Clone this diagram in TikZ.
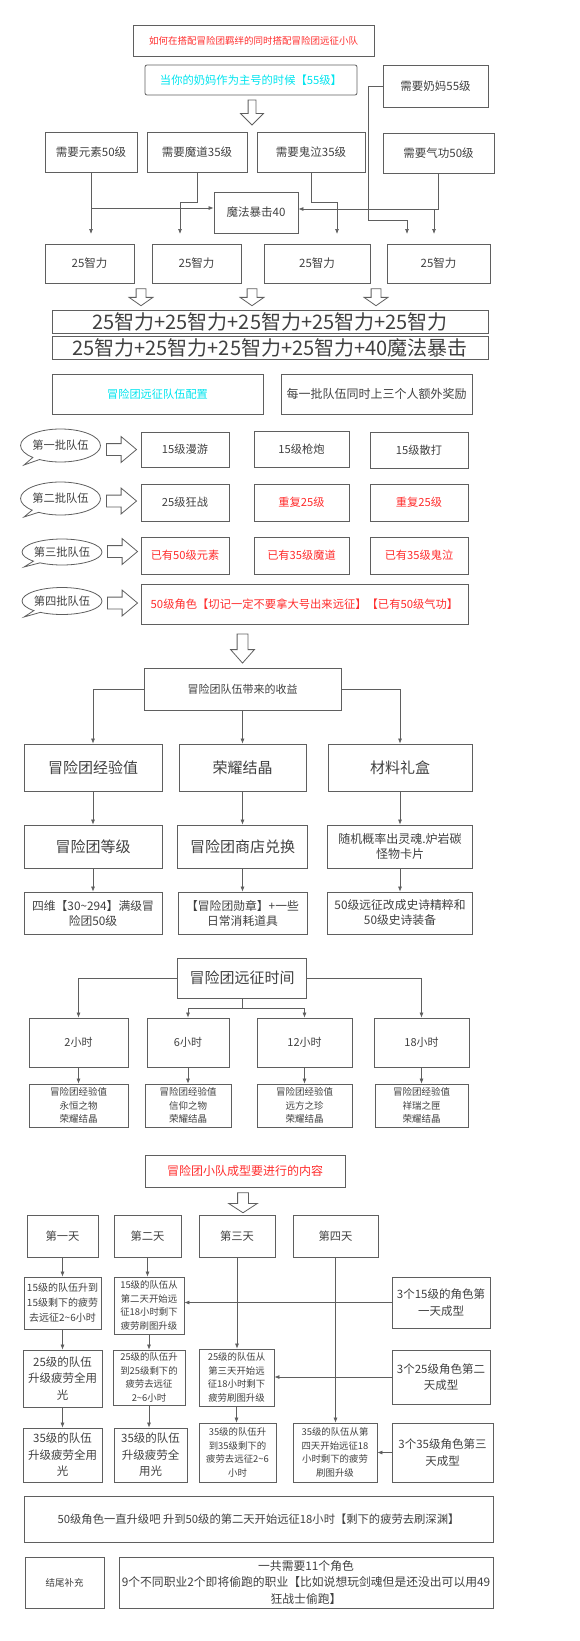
\documentclass[tikz,border=0pt]{standalone}
\usepackage{fontspec}
\setmainfont{Noto Sans CJK SC}
\usetikzlibrary{arrows.meta,shapes.arrows,shapes.callouts}

\definecolor{txtgray}{RGB}{64,64,64}
\definecolor{linegray}{RGB}{95,95,95}
\definecolor{hlred}{RGB}{255,45,45}
\definecolor{hlcyan}{RGB}{0,228,238}
\newcommand{\tld}{\textasciitilde}

\begin{document}
\begin{tikzpicture}[x=1pt, y=-1pt,
        cbox/.style 2 args={draw=linegray, line width=0.8pt, text=txtgray,
            align=center, inner sep=1pt, minimum width=#1pt, minimum height=#2pt},
        fs/.style 2 args={font=\fontsize{#1}{#2}\selectfont},
        conn/.style={draw=linegray, line width=0.7pt, -{Latex[length=5pt,width=4pt]}},
        hollowdown/.style n args={4}{single arrow, draw=linegray, line width=0.8pt,
            shape border rotate=270, inner sep=#1pt, minimum height=#2pt,
            single arrow head extend=#3pt, single arrow tip angle=#4},
        hollowright/.style={single arrow, draw=linegray, line width=0.8pt,
            inner sep=5.5pt, minimum height=30pt, single arrow head extend=7pt,
            single arrow tip angle=80},
        batch/.style n args={4}{ellipse callout, draw=linegray, line width=0.8pt,
            text=txtgray, fs={11.3}{13}, inner sep=0pt, minimum width=#1pt,
            minimum height=#2pt, callout absolute pointer={(#3,#4)}, callout pointer arc=12},
    ]
    \useasboundingbox (0,0) rectangle (580,1641);

    % main character and requirements
    \node[cbox={241}{31}, fs={9.5}{12}, text=hlred] (title) at (253.5,40.5)
        {如何在搭配冒险团羁绊的同时搭配冒险团远征小队};
    \node[cbox={212}{30}, fs={11.3}{14}, text=hlcyan, rounded corners=2pt] (mainchar) at (251,80)
        {当你的奶妈作为主号的时候【55级】};
    \node[cbox={105}{42}, fs={11.5}{14}] (naima) at (435.5,86) {需要奶妈55级};
    \node[hollowdown={3.5}{25}{7.5}{90}] (arrA) at (252,110.5) {};

    \node[cbox={92}{40}, fs={11.5}{14}] (yuansu) at (91,152) {需要元素50级};
    \node[cbox={100}{40}, fs={11.5}{14}] (modao) at (197,152) {需要魔道35级};
    \node[cbox={108}{40}, fs={11.5}{14}] (guiqi) at (311,152) {需要鬼泣35级};
    \node[cbox={111}{40}, fs={11.5}{14}] (qigong) at (438.5,153) {需要气功50级};
    \node[cbox={84}{41}, fs={11.5}{14}] (mofa) at (256,212.5) {魔法暴击40};

    \node[cbox={89}{39}, fs={11.5}{14}] (zl1) at (89.5,263.5) {25智力};
    \node[cbox={89}{39}, fs={11.5}{14}] (zl2) at (196.5,263.5) {25智力};
    \node[cbox={106}{39}, fs={11.5}{14}] (zl3) at (317,263.5) {25智力};
    \node[cbox={103}{39}, fs={11.5}{14}] (zl4) at (438.5,263.5) {25智力};

    \coordinate (zl1in) at (91,234);
    \coordinate (zl2in) at (180,234);
    \coordinate (zl3in) at (337,234);
    \coordinate (zl4in) at (407,234);
    \coordinate (zl5in) at (434,234);
    \coordinate (jy) at (91,208);
    \coordinate (jq) at (434,209);

    \draw[conn] (yuansu.south) -- (zl1in);
    \draw[conn] (jy) -- (mofa.west |- jy);
    \draw[conn] (modao.south) -- ++(0,30) -| (zl2in);
    \draw[conn] (guiqi.south) -- ++(0,30) -| (zl3in);
    \draw[conn] (naima.west) -- ++(-14,0) -- ++(0,134) -| (zl4in);
    \draw[conn] (qigong.south) -- (qigong.south |- jq) -| (zl5in);
    \draw[conn] (jq) -- (mofa.east |- jq);

    \node[hollowdown={4.5}{17}{7}{110}] (arrB1) at (141,295.5) {};
    \node[hollowdown={4.5}{17}{7}{110}] (arrB2) at (252,295.5) {};
    \node[hollowdown={4.5}{17}{7}{110}] (arrB3) at (376,295.5) {};

    \node[cbox={436}{23}, fs={20}{24}, inner sep=0pt] (sum1) at (270,321.5)
        {25智力+25智力+25智力+25智力+25智力};
    \node[cbox={436}{23}, fs={20}{24}, inner sep=0pt] (sum2) at (270,347.5)
        {25智力+25智力+25智力+25智力+40魔法暴击};

    % expedition batches
    \node[cbox={211}{40}, fs={11.2}{14}, text=hlcyan] (peizhi) at (157.5,394) {冒险团远征队伍配置};
    \node[cbox={191}{40}, fs={12}{14}] (jiangli) at (376.5,394) {每一批队伍同时上三个人额外奖励};

    \node[batch={73}{33}{24}{465}] (pi1) at (60.5,445.5) {第一批队伍};
    \node[hollowright] (ra1) at (118,449.5) {};
    \node[cbox={88}{35}, fs={11.2}{14}] (p11) at (185,449.5) {15级漫游};
    \node[cbox={95}{36}, fs={11.2}{14}] (p12) at (301.5,449) {15级枪炮};
    \node[cbox={98}{36}, fs={11.2}{14}] (p13) at (419,450) {15级散打};

    \node[batch={73}{33}{24}{517}] (pi2) at (60.5,498.5) {第二批队伍};
    \node[hollowright] (ra2) at (118,501) {};
    \node[cbox={88}{37}, fs={11.2}{14}] (p21) at (185,502.5) {25级狂战};
    \node[cbox={95}{37}, fs={11.2}{14}, text=hlred] (p22) at (301.5,502.5) {重复25级};
    \node[cbox={98}{37}, fs={11.2}{14}, text=hlred] (p23) at (419,502.5) {重复25级};

    \node[batch={76}{26}{24}{567}] (pi3) at (62,552) {第三批队伍};
    \node[hollowright] (ra3) at (119,551.5) {};
    \node[cbox={88}{37}, fs={11.2}{14}, text=hlred] (p31) at (185,555.5) {已有50级元素};
    \node[cbox={95}{37}, fs={11.2}{14}, text=hlred] (p32) at (301.5,555.5) {已有35级魔道};
    \node[cbox={98}{37}, fs={11.2}{14}, text=hlred] (p33) at (419,555.5) {已有35级鬼泣};

    \node[batch={76}{27}{24}{617}] (pi4) at (62,601) {第四批队伍};
    \node[hollowright] (ra4) at (119,603) {};
    \node[cbox={327}{40}, fs={11.3}{14}, text=hlred] (p41) at (304.5,604)
        {50级角色【切记一定不要拿大号出来远征】【已有50级气功】};

    \node[hollowdown={5}{29}{6.5}{83}] (arrC) at (242.5,645.5) {};

    % income
    \node[cbox={197}{42}, fs={11}{14}] (shouyi) at (242.5,689) {冒险团队伍带来的收益};
    \node[cbox={138}{47}, fs={15}{18}] (jyz) at (93,767.5) {冒险团经验值};
    \node[cbox={127}{47}, fs={15}{18}] (ryjj) at (242.5,767.5) {荣耀结晶};
    \node[cbox={144}{47}, fs={15}{18}] (clhh) at (400,767.5) {材料礼盒};
    \draw[conn] (shouyi.west) -| (jyz.north);
    \draw[conn] (shouyi.south) -- (ryjj.north);
    \draw[conn] (shouyi.east) -| (clhh.north);

    \node[cbox={138}{43}, fs={15}{18}] (dengji) at (93,846.5) {冒险团等级};
    \node[cbox={130}{43}, fs={15}{18}] (shangdian) at (242.5,846.5) {冒险团商店兑换};
    \node[cbox={145}{43}, fs={12}{15}] (suiji) at (400,846.5) {随机概率出灵魂.炉岩碳\\怪物卡片};
    \draw[conn] (jyz) -- (dengji);
    \draw[conn] (ryjj) -- (shangdian);
    \draw[conn] (clhh) -- (suiji);

    \node[cbox={138}{42}, fs={11.8}{15}] (siwei) at (93,913) {四维【30\tld294】满级冒\\险团50级};
    \node[cbox={129}{42}, fs={11.8}{15}] (xunzhang) at (242.5,913) {【冒险团勋章】+一些\\日常消耗道具};
    \node[cbox={145}{42}, fs={11.8}{15}] (shishi) at (400,913) {50级远征改成史诗精粹和\\50级史诗装备};
    \draw[conn] (dengji) -- (siwei);
    \draw[conn] (shangdian) -- (xunzhang);
    \draw[conn] (suiji) -- (shishi);

    % expedition time
    \node[cbox={129}{40}, fs={15}{18}] (shijian) at (242,978) {冒险团远征时间};
    \node[cbox={99}{49}, fs={11}{14}] (h2) at (78.5,1042.5) {2小时};
    \node[cbox={82}{49}, fs={11}{14}] (h6) at (188,1042.5) {6小时};
    \node[cbox={95}{49}, fs={11}{14}] (h12) at (304.5,1042.5) {12小时};
    \node[cbox={95}{49}, fs={11}{14}] (h18) at (421.5,1042.5) {18小时};
    \draw[conn] (shijian.west) -| (h2.north);
    \draw[conn] (shijian.east) -| (h18.north);
    \draw[conn] (shijian.south) -- ++(0,10) -| (h6.north);
    \draw[conn] (shijian.south) -- ++(0,10) -| (h12.north);

    \node[cbox={99}{43}, fs={9.5}{13.3}] (r2) at (78.5,1105.5) {冒险团经验值\\永恒之物\\荣耀结晶};
    \node[cbox={86}{43}, fs={9.5}{13.3}] (r6) at (188,1105.5) {冒险团经验值\\信仰之物\\荣耀结晶};
    \node[cbox={95}{43}, fs={9.5}{13.3}] (r12) at (304.5,1105.5) {冒险团经验值\\远方之珍\\荣耀结晶};
    \node[cbox={93}{43}, fs={9.5}{13.3}] (r18) at (421.5,1105.5) {冒险团经验值\\祥瑞之匣\\荣耀结晶};
    \draw[conn] (h2) -- (r2);
    \draw[conn] (h6) -- (r6);
    \draw[conn] (h12) -- (r12);
    \draw[conn] (h18) -- (r18);

    % team forming
    \node[cbox={200}{32}, fs={12}{14}, text=hlred] (neirong) at (245,1171) {冒险团小队成型要进行的内容};
    \node[hollowdown={5}{20}{9}{114}] (arrD) at (243,1201) {};

    \node[cbox={71}{42}, fs={11.3}{14}] (d1) at (62.5,1236) {第一天};
    \node[cbox={67}{42}, fs={11.3}{14}] (d2) at (147.5,1236) {第二天};
    \node[cbox={76}{42}, fs={11.3}{14}] (d3) at (237,1236) {第三天};
    \node[cbox={85}{42}, fs={11.3}{14}] (d4) at (335.5,1236) {第四天};

    \node[cbox={77}{52}, fs={10}{15}] (d1r1) at (62.5,1303) {15级的队伍升到\\15级剩下的疲劳\\去远征2\tld6小时};
    \node[cbox={70}{57}, fs={9.4}{13.5}] (d2r1) at (149,1305.5) {15级的队伍从\\第二天开始远\\征18小时剩下\\疲劳刷图升级};
    \node[cbox={98}{51}, fs={11.5}{16.5}] (cx1) at (441,1302.5) {3个15级的角色第\\一天成型};

    \node[cbox={79}{57}, fs={11.5}{16.5}] (d1r2) at (62.5,1378.5) {25级的队伍\\升级疲劳全用\\光};
    \node[cbox={72}{55}, fs={9.4}{13.5}] (d2r2) at (149,1377.5) {25级的队伍升\\到25级剩下的\\疲劳去远征\\2\tld6小时};
    \node[cbox={75}{57}, fs={9.4}{13.5}] (d3r2) at (236.5,1377.5) {25级的队伍从\\第三天开始远\\征18小时剩下\\疲劳刷图升级};
    \node[cbox={98}{54}, fs={11.5}{16.5}] (cx2) at (441,1377) {3个25级角色第二\\天成型};

    \node[cbox={79}{54}, fs={11.5}{16.5}] (d1r3) at (62.5,1455) {35级的队伍\\升级疲劳全用\\光};
    \node[cbox={73}{54}, fs={11.5}{16.5}] (d2r3) at (150.5,1455) {35级的队伍\\升级疲劳全\\用光};
    \node[cbox={77}{59}, fs={9.4}{13.5}] (d3r3) at (237.5,1452.5) {35级的队伍升\\到35级剩下的\\疲劳去远征2\tld6\\小时};
    \node[cbox={84}{59}, fs={9.4}{13.5}] (d4r3) at (335,1452.5) {35级的队伍从第\\四天开始远征18\\小时剩下的疲劳\\刷图升级};
    \node[cbox={101}{59}, fs={11.5}{16.5}] (cx3) at (442.5,1452.5) {3个35级角色第三\\天成型};

    \draw[conn] (d1) -- (d1r1);
    \draw[conn] (d2.south) -- (d2.south |- d2r1.north);
    \draw[conn] (d3.south) -- (d3.south |- d3r2.north);
    \draw[conn] (d4.south) -- (d4.south |- d4r3.north);
    \draw[conn] (cx1.west) -- (cx1.west -| d2r1.east);
    \draw[conn] (cx2.west) -- (cx2.west -| d3r2.east);
    \draw[conn] (cx3.west) -- (cx3.west -| d4r3.east);
    \draw[conn] (d1r1) -- (d1r2);
    \draw[conn] (d2r1) -- (d2r2);
    \draw[conn] (d1r2) -- (d1r3);
    \draw[conn] (d2r2.south) -- (d2r2.south |- d2r3.north);
    \draw[conn] (d3r2.south) -- (d3r2.south |- d3r3.north);

    % closing notes
    \node[cbox={469}{46}, fs={11.3}{14}] (zongjie) at (258.5,1519)
        {50级角色一直升级吧 升到50级的第二天开始远征18小时【剩下的疲劳去刷深渊】};
    \node[cbox={79}{51}, fs={9.5}{12}] (jwbc) at (64.5,1582.5) {结尾补充};
    \node[cbox={374}{51}, fs={11.8}{16.3}] (buchong) at (306,1582.5)
        {一共需要11个角色\\9个不同职业2个即将偷跑的职业【比如说想玩剑魂但是还没出可以用49\\狂战士偷跑】};
\end{tikzpicture}
\end{document}
